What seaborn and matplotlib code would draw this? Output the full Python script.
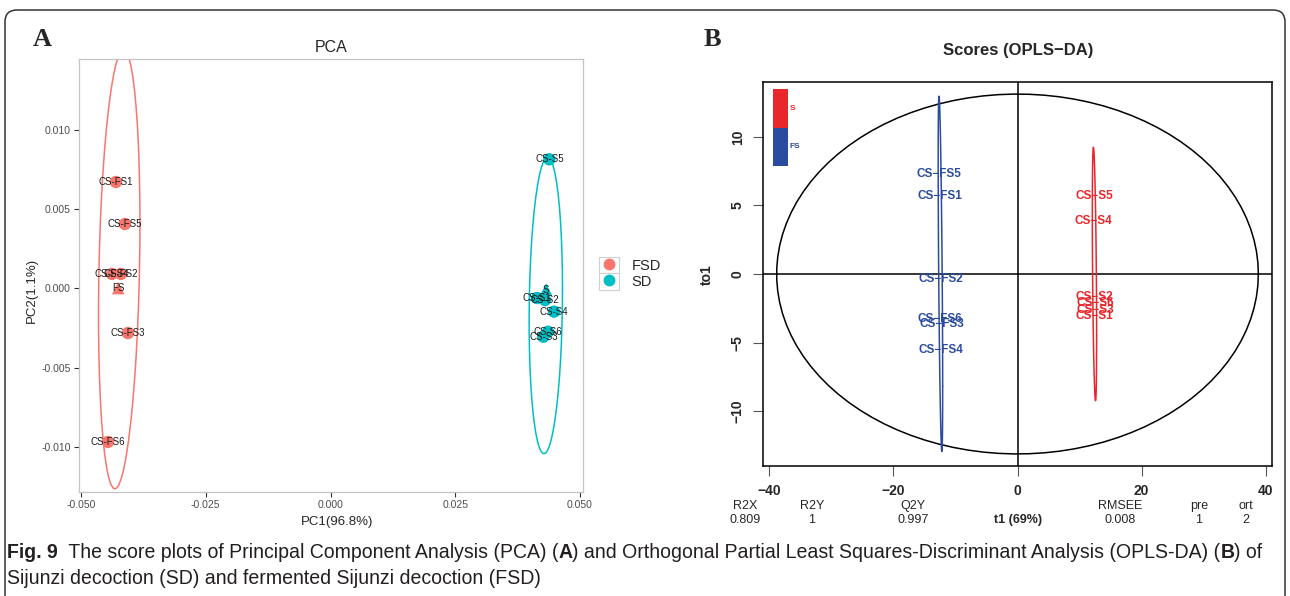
# score plots: PCA (A) and OPLS-DA (B)

import numpy as np
import pandas as pd
import seaborn as sns
import matplotlib.pyplot as plt
from matplotlib.patches import Rectangle, FancyBboxPatch, Patch
from matplotlib.lines import Line2D
from matplotlib.legend_handler import HandlerTuple
from matplotlib.ticker import FuncFormatter, FixedLocator
from matplotlib.transforms import IdentityTransform

# ---- data ----
fsd_names = ['CS-FS1', 'CS-FS2', 'CS-FS3', 'CS-FS4', 'CS-FS5', 'CS-FS6']
fsd_pc1 = [-0.0430, -0.0420, -0.0406, -0.0438, -0.0412, -0.0446]
fsd_pc2 = [0.00672, 0.00092, -0.00281, 0.00092, 0.00407, -0.00968]
sd_names = ['CS-S1', 'CS-S2', 'CS-S3', 'CS-S4', 'CS-S5', 'CS-S6']
sd_pc1 = [0.04138, 0.04299, 0.04265, 0.04479, 0.04385, 0.04359]
sd_pc2 = [-0.00060, -0.00073, -0.00304, -0.00146, 0.00815, -0.00273]

fs_t1 = [-12.5, -12.3, -12.2, -12.4, -12.6, -12.5]
fs_to1 = [5.66, -0.37, -3.68, -5.51, 7.28, -3.31]
s_t1 = [12.4, 12.3, 12.5, 12.2, 12.4, 12.6]
s_to1 = [-3.09, -1.69, -2.65, 3.90, 5.66, -2.13]

stat_names = ['R2X', 'R2Y', 'Q2Y', 'RMSEE', 'pre', 'ort']
stat_values = ['0.809', '1', '0.997', '0.008', '1', '2']

caption_1 = [('Fig. 9', 'bold'),
             ('  The score plots of Principal Component Analysis (PCA) (', 'normal'),
             ('A', 'bold'),
             (') and Orthogonal Partial Least Squares-Discriminant Analysis (OPLS-DA) (', 'normal'),
             ('B', 'bold'), (') of', 'normal')]
caption_2 = [('Sijunzi decoction (SD) and fermented Sijunzi decoction (FSD)', 'normal')]


def f_quant2(p, d):
    # quantile of F(2, d)
    return d / 2 * ((1 - p) ** (-2 / d) - 1)


def cov_trob(xy, nu=5, maxit=25, tol=0.01):
    # robust (multivariate t) location / scatter, as MASS::cov.trob
    n, p = xy.shape
    loc = xy.mean(axis=0)
    w = np.ones(n)
    for _ in range(maxit):
        w0 = w
        X = xy - loc
        _, d, vt = np.linalg.svd(np.sqrt(w / w.sum())[:, None] * X, full_matrices=False)
        Q = ((X @ vt.T / d) ** 2).sum(axis=1)
        w = (nu + p) / (nu + Q)
        loc = (w[:, None] * xy).sum(axis=0) / w.sum()
        if np.all(np.abs(w - w0) < tol):
            break
    sx = np.sqrt(w)[:, None] * X
    return loc, sx.T @ sx / n


def stat_ellipse(xy, level=0.95, segments=51, nu=5):
    loc, cov = cov_trob(xy, nu=nu)
    r = np.sqrt(2 * f_quant2(level, len(xy) - 1))
    ang = np.linspace(0, 2 * np.pi, segments + 1)
    circ = np.column_stack([np.cos(ang), np.sin(ang)])
    pts = loc + r * circ @ np.linalg.cholesky(cov).T
    return pts[:, 0], pts[:, 1]


def norm_ellipse(xy, level=0.95, segments=100):
    loc = xy.mean(axis=0)
    r = np.sqrt(-2 * np.log(1 - level))
    ang = np.linspace(0, 2 * np.pi, segments + 1)
    circ = np.column_stack([np.cos(ang), np.sin(ang)])
    pts = loc + r * circ @ np.linalg.cholesky(np.cov(xy.T)).T
    return pts[:, 0], pts[:, 1]


sns.set_theme(style='white')
plt.rcParams['font.family'] = ['Liberation Sans', 'DejaVu Sans']
plt.rcParams['axes.unicode_minus'] = False

W, H = 1290, 596
fig = plt.figure(figsize=(W / 100, H / 100), dpi=100)


def box(l, t, r, b):
    return [l / W, 1 - b / H, (r - l) / W, (b - t) / H]


# ================= A: PCA =================
pca = pd.DataFrame({'sample': fsd_names + sd_names,
                    'PC1': fsd_pc1 + sd_pc1,
                    'PC2': fsd_pc2 + sd_pc2,
                    'group': ['FSD'] * 6 + ['SD'] * 6})
palette = {'FSD': '#F8766D', 'SD': '#00BFC4'}
short = {'FSD': 'FS', 'SD': 'S'}
ellipse_nu = {'FSD': 3, 'SD': 5}

axA = fig.add_axes(box(79, 59, 583, 492))
for g, d in pca.groupby('group'):
    ex, ey = stat_ellipse(d[['PC1', 'PC2']].to_numpy(), nu=ellipse_nu[g])
    axA.plot(ex, ey, color=palette[g], lw=1.1)
sns.scatterplot(data=pca, x='PC1', y='PC2', hue='group', palette=palette,
                s=80, edgecolor='none', legend=False, ax=axA, zorder=3)
cent = pca.groupby('group')[['PC1', 'PC2']].mean().reset_index()
sns.scatterplot(data=cent, x='PC1', y='PC2', hue='group', palette=palette, marker='^',
                s=80, edgecolor='none', legend=False, ax=axA, zorder=3)
for _, r in pca.iterrows():
    axA.text(r.PC1, r.PC2, r['sample'], ha='center', va='center', fontsize=7,
             color='#1a1a1a', zorder=4)
for _, r in cent.iterrows():
    axA.text(r.PC1, r.PC2, short[r.group], ha='center', va='center', fontsize=7,
             color='#1a1a1a', zorder=4)

axA.set_xlim(-0.0504, 0.0506)
axA.set_ylim(-0.01284, 0.01448)
axA.xaxis.set_major_locator(FixedLocator([-0.05, -0.025, 0, 0.025, 0.05]))
axA.yaxis.set_major_locator(FixedLocator([-0.01, -0.005, 0, 0.005, 0.01]))
axA.xaxis.set_major_formatter(FuncFormatter(lambda v, p: f'{v:.3f}'))
axA.yaxis.set_major_formatter(FuncFormatter(lambda v, p: f'{v:.3f}'))
axA.tick_params(axis='both', which='major', length=3.5, width=0.8, color='#333333',
                labelsize=7.5, labelcolor='#4d4d4d', pad=2.5, left=True, bottom=True)
for sp in axA.spines.values():
    sp.set_color('#c4c4c4')
    sp.set_linewidth(0.9)
axA.set_xlabel('')
axA.set_ylabel('')
fig.text(337 / W, 1 - 522 / H, 'PC1(96.8%)', ha='center', va='center', fontsize=9.5)
fig.text(32 / W, 1 - 290 / H, 'PC2(1.1%)', ha='center', va='center', fontsize=9.5,
         rotation=90)
fig.text(331 / W, 1 - 48 / H, 'PCA', ha='center', va='center', fontsize=11.5)

handles = [(Patch(facecolor='white', edgecolor='#d0d0d0', lw=0.8),
            Line2D([], [], marker='o', ls='', color=palette[g], markersize=7.5))
           for g in palette]
fig.legend(handles, list(palette), handler_map={tuple: HandlerTuple(ndivide=1)},
           loc='upper left', bbox_to_anchor=(599 / W, 1 - 257 / H), frameon=False,
           borderpad=0, borderaxespad=0, labelspacing=0, handlelength=1.35,
           handleheight=1.35, handletextpad=0.9, fontsize=10.5)

# ================= B: OPLS-DA =================
opls = pd.DataFrame({'sample': fsd_names + sd_names,
                     't1': fs_t1 + s_t1,
                     'to1': fs_to1 + s_to1,
                     'cls': ['FS'] * 6 + ['S'] * 6})
cls_col = {'S': '#E8262B', 'FS': '#2B4C9E'}

axB = fig.add_axes(box(763, 82, 1272, 466))
# Hotelling T2 ellipse
n = len(opls)
hot = (n - 1) * 2 * (n ** 2 - 1) / (n ** 2 * (n - 2)) * f_quant2(0.95, n - 2)
ang = np.linspace(0, 2 * np.pi, 100)
sns.lineplot(x=np.sqrt(opls.t1.var() * hot) * np.cos(ang),
             y=np.sqrt(opls.to1.var() * hot) * np.sin(ang),
             sort=False, estimator=None, color='black', lw=1.1, ax=axB)
axB.axhline(0, color='black', lw=1.1)
axB.axvline(0, color='black', lw=1.1)
for c, d in opls.groupby('cls'):
    ex, ey = norm_ellipse(d[['t1', 'to1']].to_numpy())
    axB.plot(ex, ey, color=cls_col[c], lw=1.1)
for _, r in opls.iterrows():
    axB.text(r.t1, r.to1, r['sample'].replace('-', '\u2212'), ha='center', va='center',
             fontsize=8.5, fontweight='bold', color=cls_col[r.cls])

# class colour bar in the top-left corner
axB.add_patch(Rectangle((0.0196, 0.880), 0.0295, 0.102, transform=axB.transAxes,
                        color=cls_col['S'], lw=0))
axB.add_patch(Rectangle((0.0196, 0.781), 0.0295, 0.099, transform=axB.transAxes,
                        color=cls_col['FS'], lw=0))
axB.text(0.052, 0.932, 'S', transform=axB.transAxes, fontsize=6, fontweight='bold',
         color=cls_col['S'], va='center')
axB.text(0.052, 0.831, 'FS', transform=axB.transAxes, fontsize=6, fontweight='bold',
         color=cls_col['FS'], va='center')

axB.set_xlim(-41, 41)
axB.set_ylim(-14, 14)
axB.xaxis.set_major_locator(FixedLocator([-40, -20, 0, 20, 40]))
axB.yaxis.set_major_locator(FixedLocator([-10, -5, 0, 5, 10]))
fmt = FuncFormatter(lambda v, p: f'{v:g}'.replace('-', '\u2212'))
axB.xaxis.set_major_formatter(fmt)
axB.yaxis.set_major_formatter(fmt)
axB.tick_params(axis='both', which='major', direction='out', length=7, width=0.8,
                color='#555555', labelsize=10, pad=6, left=True, bottom=True)
axB.tick_params(axis='y', labelrotation=90)
for lab in axB.get_yticklabels() + axB.get_xticklabels():
    lab.set_fontweight('bold')
for lab in axB.get_yticklabels():
    lab.set_va('center')
for sp in axB.spines.values():
    sp.set_color('black')
    sp.set_linewidth(1.1)
axB.set_xlabel('')
axB.set_ylabel('')

fig.text(1018 / W, 1 - 50 / H, 'Scores (OPLS\u2212DA)', ha='center', va='center',
         fontsize=12, fontweight='bold')
fig.text(707 / W, 1 - 275 / H, 'to1', ha='center', va='center', fontsize=10,
         fontweight='bold', rotation=90)
fig.text(1018 / W, 1 - 520 / H, 't1 (69%)', ha='center', va='center', fontsize=9,
         fontweight='bold')
stat_x = [745, 812, 913, 1120, 1199, 1246]
for x, name, val in zip(stat_x, stat_names, stat_values):
    fig.text(x / W, 1 - 506 / H, name, ha='center', va='center', fontsize=9)
    fig.text(x / W, 1 - 520 / H, val, ha='center', va='center', fontsize=9)

# panel letters
fig.text(42 / W, 1 - 39 / H, 'A', ha='center', va='center', fontsize=19,
         fontweight='bold', family='Liberation Serif')
fig.text(712 / W, 1 - 39 / H, 'B', ha='center', va='center', fontsize=19,
         fontweight='bold', family='Liberation Serif')

# caption, sized so that the first line spans the frame
renderer = fig.canvas.get_renderer()


def write_line(pieces, x0, y0, size, draw=True):
    x = x0
    for s, wt in pieces:
        t = fig.text(x / W, 1 - y0 / H, s, ha='left', va='center', fontsize=size,
                     fontweight=wt, color='#231f20')
        x += t.get_window_extent(renderer).width
        if not draw:
            t.remove()
    return x - x0


cap_size = 12.5 * 1259 / write_line(caption_1, 7, 553, 12.5, draw=False)
write_line(caption_1, 7, 553, cap_size)
write_line(caption_2, 7, 579, cap_size)

# rounded frame round the whole figure
fig.add_artist(FancyBboxPatch((5, -40), 1280, 626, boxstyle='round,pad=0,rounding_size=12',
                              transform=IdentityTransform(), fill=False,
                              edgecolor='#333333', lw=1.1))

fig.savefig('out.png', dpi=100)
